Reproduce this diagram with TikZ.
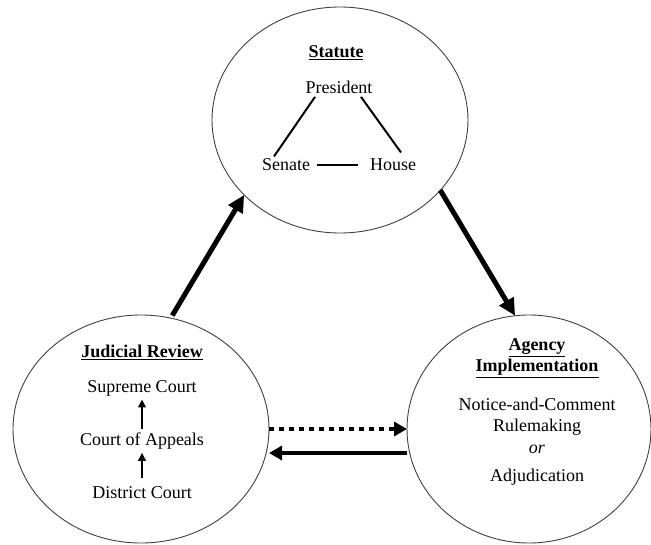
\documentclass[tikz,border=0pt]{standalone}
\usepackage{fontspec}
\setmainfont{Liberation Serif}
\usetikzlibrary{shapes.geometric,arrows.meta}

\begin{document}
\begin{tikzpicture}[x=1pt,y=-1pt,
	font=\fontsize{18}{21}\selectfont,
	bubble/.style={ellipse,draw=black!75,line width=0.9pt,inner sep=0pt,outer sep=0pt},
	bigarrow/.style={line width=5pt,-{Triangle[length=17pt,width=16pt]}},
	flatarrow/.style={line width=4.5pt,-{Triangle[length=13pt,width=14pt]}},
	smallarrow/.style={line width=2.4pt,-{Triangle[length=8pt,width=7.5pt]}},
	link/.style={line width=2pt}]
	
	\useasboundingbox (0,0) rectangle (651,544);
	
	% the three circles
	\node[bubble,minimum width=256pt,minimum height=226pt] (st) at (340,120) {};
	\node[bubble,minimum width=256pt,minimum height=228pt] (jr) at (141,429) {};
	\node[bubble,minimum width=244pt,minimum height=228pt] (ai) at (529,429) {};
	
	% statute
	\node (sttitle) at (336,53) {\underline{\textbf{Statute}}};
	\node (pres) at (339,87) {President};
	\node (sen) at (286,165) {Senate};
	\node (hou) at (393,165) {House};
	\draw[link] ([xshift=-24pt]pres.south) -- ([shift={(-12pt,-1pt)}]sen.north);
	\draw[link] ([xshift=22pt]pres.south) -- ([shift={(8pt,3pt)}]hou.north);
	\draw[link,shorten <=3pt,shorten >=8pt] (sen) -- (hou);
	
	% judicial review
	\node (jrtitle) at (142,352) {\underline{\textbf{Judicial Review}}};
	\node (sc) at (142,388) {Supreme Court};
	\node (coa) at (142,441) {Court of Appeals};
	\node (dc) at (142,493) {District Court};
	\draw[smallarrow] (coa.north) -- (sc.south);
	\draw[smallarrow] ([yshift=5pt]dc.north) -- (coa.south);
	
	% agency implementation
	\node[align=center] (aititle) at (537,358) {\underline{\textbf{Agency}}\\\underline{\textbf{Implementation}}};
	\node[align=center] (nc) at (537,417) {Notice-and-Comment\\Rulemaking};
	\node (or) at (537,449) {\textit{or}};
	\node (adj) at (537,477) {Adjudication};
	
	% the cycle
	\draw[bigarrow,shorten <=3pt] (jr.75) -- (st.218);
	\draw[bigarrow] (st.325) -- (ai.97);
	\draw[flatarrow,dash pattern=on 5pt off 5pt] (jr.east) -- (ai.west);
	\draw[flatarrow] ([yshift=-24pt]ai.west) -- ([yshift=-24pt]jr.east);
	
\end{tikzpicture}
\end{document}
